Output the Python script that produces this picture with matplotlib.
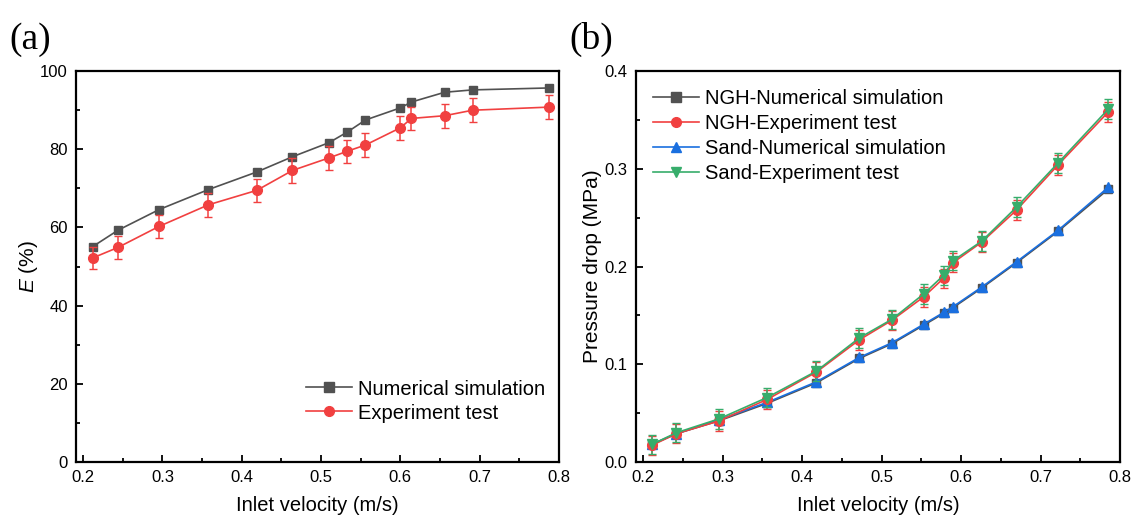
#!/usr/bin/env python3
"""Separation efficiency (a) and pressure drop (b) vs inlet velocity."""

import matplotlib
matplotlib.use('Agg')
import matplotlib.pyplot as plt
from matplotlib.lines import Line2D
from matplotlib.ticker import MultipleLocator

plt.rcParams['font.family'] = ['Liberation Sans', 'DejaVu Sans']
plt.rcParams['mathtext.fontset'] = 'custom'
plt.rcParams['mathtext.it'] = 'Liberation Sans:italic'

# Panel (a) data
vel_a = [0.212, 0.244, 0.296, 0.358, 0.419, 0.464, 0.510, 0.533, 0.556,
         0.600, 0.614, 0.656, 0.691, 0.788]
eff_sim = [55.1, 59.3, 64.6, 69.7, 74.2, 78.1, 81.7, 84.4, 87.5,
           90.6, 92.1, 94.6, 95.2, 95.7]
eff_exp = [52.2, 54.9, 60.3, 65.8, 69.5, 74.6, 77.8, 79.5, 81.1,
           85.5, 87.9, 88.6, 90.0, 90.8]
eff_err = [2.8, 2.9, 3.0, 3.1, 3.0, 3.1, 3.0, 3.0, 3.1,
           3.0, 3.0, 3.1, 3.0, 3.1]

# Panel (b) data
vel_b = [0.211, 0.242, 0.295, 0.356, 0.418, 0.472, 0.513, 0.553, 0.578,
         0.590, 0.626, 0.670, 0.722, 0.785]
dp_ngh_sim = [0.018, 0.029, 0.042, 0.060, 0.081, 0.106, 0.121, 0.140, 0.152,
              0.158, 0.178, 0.204, 0.236, 0.279]
dp_ngh_exp = [0.017, 0.029, 0.042, 0.064, 0.092, 0.125, 0.145, 0.169, 0.188,
              0.204, 0.225, 0.258, 0.304, 0.358]
dp_sand_sim = [0.018, 0.029, 0.043, 0.061, 0.082, 0.107, 0.122, 0.141, 0.153,
               0.159, 0.179, 0.205, 0.237, 0.281]
dp_sand_exp = [0.018, 0.030, 0.044, 0.066, 0.093, 0.127, 0.146, 0.172, 0.191,
               0.206, 0.226, 0.261, 0.306, 0.361]
dp_err = [0.010, 0.010, 0.010, 0.010, 0.010, 0.010, 0.010, 0.010, 0.010,
          0.010, 0.010, 0.010, 0.010, 0.010]

colors = {
    'gray': '#515151',
    'red': '#F14040',
    'blue': '#1A6FDF',
    'green': '#37AD6B',
}

LW = 1.2


def style_axes(ax):
    for side in ['left', 'right', 'top', 'bottom']:
        ax.spines[side].set_linewidth(1.6)
    ax.tick_params(which='both', direction='in', top=False, right=False,
                   labelsize=12, width=1.3)
    ax.tick_params(which='major', length=5, pad=6)
    ax.tick_params(which='minor', length=3)
    ax.xaxis.set_major_locator(MultipleLocator(0.1))
    ax.xaxis.set_minor_locator(MultipleLocator(0.05))
    ax.set_xlim(0.191, 0.8)
    ax.set_xlabel('Inlet velocity (m/s)', fontsize=14.5, labelpad=8)


def handle(color, marker):
    return Line2D([], [], color=color, marker=marker, markersize=7, linewidth=LW)


fig = plt.figure(figsize=(11.31, 5.17), dpi=100)

# (a) separation efficiency
ax1 = fig.add_axes([0.0672, 0.1064, 0.427, 0.756])
ax1.plot(vel_a, eff_sim, color=colors['gray'], marker='s', markersize=6,
         linewidth=LW)
ax1.errorbar(vel_a, eff_exp, yerr=eff_err, color=colors['red'], marker='o',
             markersize=7, linewidth=LW, elinewidth=1.1, capsize=3)
ax1.set_ylim(0, 100)
ax1.yaxis.set_major_locator(MultipleLocator(20))
ax1.yaxis.set_minor_locator(MultipleLocator(10))
ax1.set_ylabel('$E$ (%)', fontsize=15, labelpad=0)
style_axes(ax1)
ax1.legend([handle(colors['gray'], 's'), handle(colors['red'], 'o')],
           ['Numerical simulation', 'Experiment test'],
           loc='lower right', frameon=False, fontsize=14.5,
           handlelength=2.3, handletextpad=0.3, labelspacing=0.25,
           borderaxespad=0.2, bbox_to_anchor=(0.997, 0.07))

# (b) pressure drop
ax2 = fig.add_axes([0.5623, 0.1064, 0.428, 0.756])
ax2.plot(vel_b, dp_ngh_sim, color=colors['gray'], marker='s', markersize=6,
         linewidth=LW)
ax2.errorbar(vel_b, dp_ngh_exp, yerr=dp_err, color=colors['red'], marker='o',
             markersize=7, linewidth=LW, elinewidth=1.1, capsize=3)
ax2.plot(vel_b, dp_sand_sim, color=colors['blue'], marker='^', markersize=7,
         linewidth=LW)
ax2.errorbar(vel_b, dp_sand_exp, yerr=dp_err, color=colors['green'], marker='v',
             markersize=7, linewidth=LW, elinewidth=1.1, capsize=3)
ax2.set_ylim(0, 0.4)
ax2.yaxis.set_major_locator(MultipleLocator(0.1))
ax2.yaxis.set_minor_locator(MultipleLocator(0.05))
ax2.set_ylabel('Pressure drop (MPa)', fontsize=15, labelpad=2)
style_axes(ax2)
ax2.legend([handle(colors['gray'], 's'), handle(colors['red'], 'o'),
            handle(colors['blue'], '^'), handle(colors['green'], 'v')],
           ['NGH-Numerical simulation', 'NGH-Experiment test',
            'Sand-Numerical simulation', 'Sand-Experiment test'],
           loc='upper left', frameon=False, fontsize=14.5,
           handlelength=2.3, handletextpad=0.3, labelspacing=0.3,
           borderaxespad=0.2, bbox_to_anchor=(0.01, 0.985))

# Panel labels
fig.text(0.008, 0.905, '(a)', family=['Liberation Serif', 'DejaVu Serif'], fontsize=27)
fig.text(0.503, 0.905, '(b)', family=['Liberation Serif', 'DejaVu Serif'], fontsize=27)

fig.savefig('out.png', dpi=100)
